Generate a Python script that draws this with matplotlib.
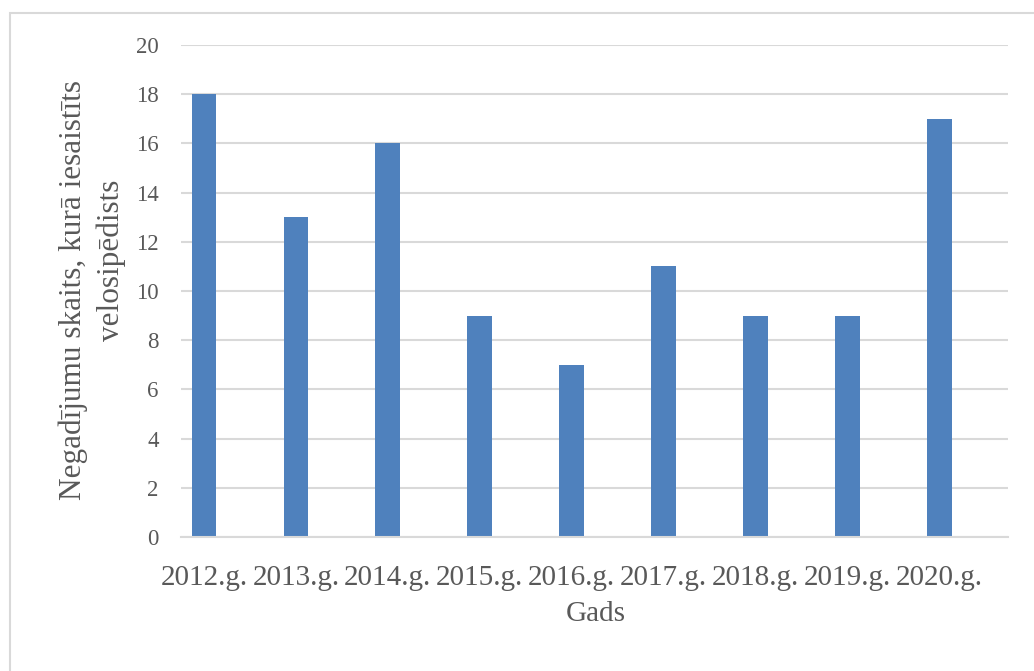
import matplotlib.pyplot as plt
from matplotlib.patches import Rectangle

years = ["2012.g.", "2013.g.", "2014.g.", "2015.g.", "2016.g.",
         "2017.g.", "2018.g.", "2019.g.", "2020.g."]
counts = [18, 13, 16, 9, 7, 11, 9, 9, 17]
y_ticks = [0, 2, 4, 6, 8, 10, 12, 14, 16, 18, 20]

bar_color = "#4F81BD"
text_color = "#595959"
grid_color = "#D9D9D9"

plt.rcParams["font.family"] = ["Liberation Serif", "DejaVu Serif"]

W, H = 1034, 671
fig = plt.figure(figsize=(W / 100, H / 100), dpi=100)

# chart frame
fig.patches.append(Rectangle((10 / W, -0.1), 1.1, (H - 13) / H + 0.1,
                             transform=fig.transFigure, fill=False,
                             edgecolor=grid_color, linewidth=1.5))

ax = fig.add_axes([181 / W, (H - 537) / H, (1008 - 181) / W, (537 - 45) / H])
x = range(len(years))
ax.bar(x, counts, width=0.27, color=bar_color, zorder=3)

ax.set_xlim(-0.25, len(years) - 0.255)
ax.set_ylim(0, 20)
ax.set_yticks(y_ticks)
ax.set_xticks(list(x))
ax.set_xticklabels(years, fontsize=21, color=text_color)
ax.tick_params(axis="y", labelsize=16.5, labelcolor=text_color, length=0, pad=16)
ax.tick_params(axis="x", length=0, pad=20)

ax.grid(axis="y", color=grid_color, linewidth=1.5, zorder=0)
for side in ("top", "right", "left"):
    ax.spines[side].set_visible(False)
ax.spines["bottom"].set_color(grid_color)
ax.spines["bottom"].set_linewidth(1.5)
ax.spines["bottom"].set_zorder(4)

fig.text(596 / W, 1 - 614 / H, "Gads", fontsize=21, color=text_color,
         ha="center", va="center")
# two-line vertical axis title
fig.text(73 / W, 1 - 290 / H, "Negadījumu skaits, kurā iesaistīts",
         fontsize=22.5, color=text_color, rotation=90, ha="center", va="center")
fig.text(111 / W, 1 - 260 / H, "velosipēdists",
         fontsize=22.5, color=text_color, rotation=90, ha="center", va="center")

fig.savefig("out.png", dpi=100, facecolor="white")
